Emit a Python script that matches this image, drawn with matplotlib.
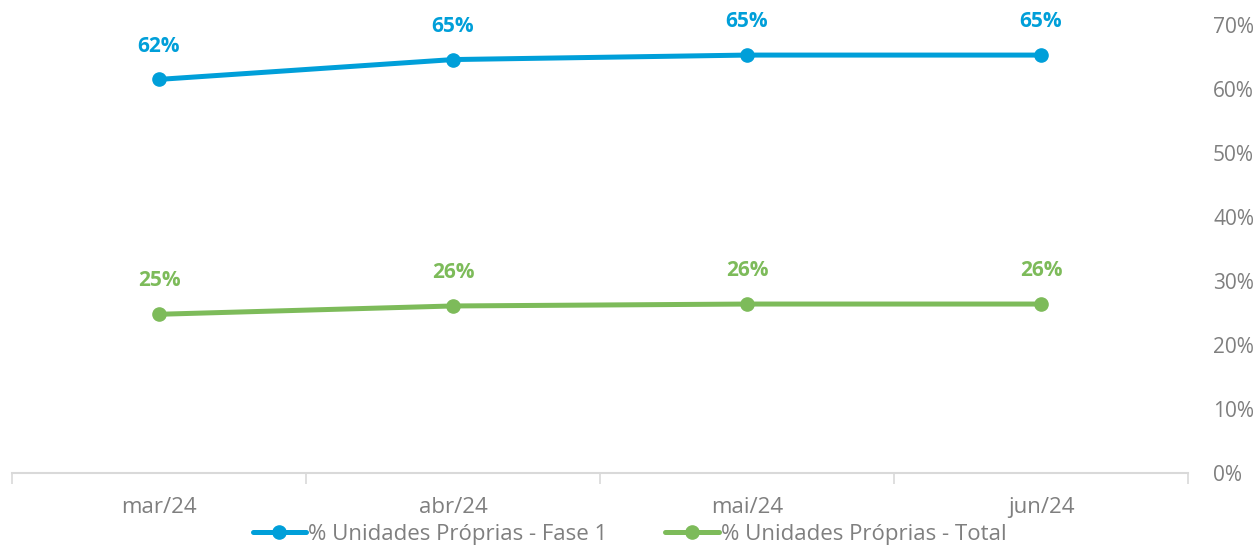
import matplotlib.pyplot as plt
from matplotlib.ticker import FuncFormatter

months = ["mar/24", "abr/24", "mai/24", "jun/24"]
fase1 = [61.5, 64.6, 65.3, 65.3]
total = [24.8, 26.1, 26.4, 26.4]
series_names = ["% Unidades Próprias - Fase 1", "% Unidades Próprias - Total"]

blue = "#009FD9"
green = "#7DBB5A"
gray = "#7F7F7F"

plt.rcParams["font.family"] = ["Open Sans", "DejaVu Sans"]

fig = plt.figure(figsize=(12.59, 5.45), dpi=100)
ax = fig.add_axes([12 / 1259, 72 / 545, 1176 / 1259, 448 / 545])

x = list(range(len(months)))
for vals, color, name in [(fase1, blue, series_names[0]), (total, green, series_names[1])]:
    ax.plot(x, vals, color=color, lw=3.6, marker="o", markersize=9.5, label=name,
            solid_capstyle="round", clip_on=False)
    for xi, v in zip(x, vals):
        ax.annotate(f"{v:.0f}%", (xi, v), xytext=(0, 24), textcoords="offset points",
                    ha="center", va="center", color=color, fontsize=15, fontweight="bold")

ax.set_xlim(-0.5, 3.5)
ax.set_ylim(0, 70)
ax.set_yticks(range(0, 71, 10))
ax.yaxis.set_major_formatter(FuncFormatter(lambda v, p: f"{v:.0f}%"))
ax.yaxis.tick_right()
ax.tick_params(axis="y", length=0, pad=18, labelsize=15, labelcolor=gray)
for lbl in ax.get_yticklabels():
    lbl.set_horizontalalignment("left")

ax.set_xticks(x)
ax.set_xticklabels(months)
ax.set_xticks([-0.5, 0.5, 1.5, 2.5, 3.5], minor=True)
ax.tick_params(axis="x", which="major", length=0, pad=17, labelsize=16, labelcolor=gray)
ax.tick_params(axis="x", which="minor", length=8, width=1.2, color="#D9D9D9")

for s in ["top", "left", "right"]:
    ax.spines[s].set_visible(False)
ax.spines["bottom"].set_color("#D9D9D9")
ax.spines["bottom"].set_linewidth(1.5)

fig.legend(loc="center", bbox_to_anchor=(0.5, 0.02), ncol=2, frameon=False,
           fontsize=16, labelcolor=gray, handlelength=2.4, handletextpad=0.1,
           columnspacing=2.6)

fig.savefig("out.png", dpi=100)
